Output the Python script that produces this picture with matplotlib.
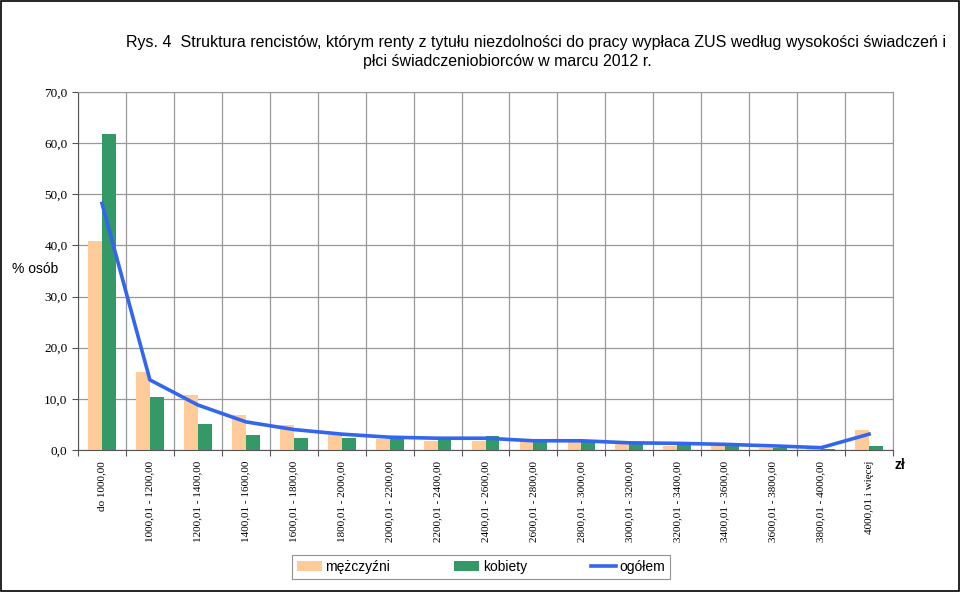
import numpy as np
import matplotlib
matplotlib.use("Agg")
import matplotlib.pyplot as plt

categories = ["do 1000,00", "1000,01 - 1200,00", "1200,01 - 1400,00", "1400,01 - 1600,00",
              "1600,01 - 1800,00", "1800,01 - 2000,00", "2000,01 - 2200,00", "2200,01 - 2400,00",
              "2400,01 - 2600,00", "2600,01 - 2800,00", "2800,01 - 3000,00", "3000,01 - 3200,00",
              "3200,01 - 3400,00", "3400,01 - 3600,00", "3600,01 - 3800,00", "3800,01 - 4000,00",
              "4000,01 i więcej"]
mezczyzni = [40.9, 15.3, 10.8, 6.8, 4.9, 2.9, 2.2, 1.8, 1.8, 1.5, 1.5, 1.2, 0.8, 0.8, 0.45, 0.2, 3.9]
kobiety = [61.8, 10.4, 5.1, 2.9, 2.3, 2.3, 2.1, 1.9, 2.7, 1.7, 1.7, 1.2, 0.9, 0.8, 0.3, 0.1, 0.8]
ogolem = [48.2, 13.7, 8.8, 5.5, 4.0, 3.1, 2.5, 2.3, 2.3, 1.8, 1.8, 1.4, 1.3, 1.1, 0.8, 0.45, 3.1]

serif = ["Liberation Serif", "DejaVu Serif"]
sans = ["Liberation Sans", "DejaVu Sans"]

fig = plt.figure(figsize=(9.6, 5.92), dpi=100)
ax = fig.add_axes([0.08125, 0.2399, 0.849, 0.6047])

x = np.arange(len(categories))
w = 0.29
b1 = ax.bar(x - w / 2, mezczyzni, w, color="#FFCC99", label="mężczyźni", zorder=2)
b2 = ax.bar(x + w / 2, kobiety, w, color="#339966", label="kobiety", zorder=2)
l1, = ax.plot(x, ogolem, color="#3366EE", lw=2.6, label="ogółem", zorder=3)

ax.set_xlim(-0.5, len(categories) - 0.5)
ax.set_ylim(0, 70)
ax.set_yticks(np.arange(0, 71, 10))
ax.yaxis.set_major_formatter(matplotlib.ticker.FuncFormatter(lambda v, p: ("%.1f" % v).replace(".", ",")))
for lab in ax.get_yticklabels():
    lab.set_family(serif)
    lab.set_fontsize(9.5)

ax.set_xticks(np.arange(-0.5, len(categories), 1))
ax.set_xticklabels([])
ax.set_xticks(x, minor=True)
ax.set_xticklabels(categories, minor=True, rotation=90, family=serif, fontsize=8, va="top")
ax.tick_params(axis="x", which="minor", length=0, pad=8)
ax.tick_params(axis="x", which="major", length=4, color="#555555")
ax.tick_params(axis="y", length=4, color="#555555")

ax.grid(True, which="major", color="#999999", lw=0.9, zorder=0)
for s in ax.spines.values():
    s.set_color("#999999")
ax.spines["bottom"].set_color("#555555")
ax.spines["left"].set_color("#555555")

fig.text(0.558, 0.929, "Rys. 4  Struktura rencistów, którym renty z tytułu niezdolności do pracy wypłaca ZUS według wysokości świadczeń i",
         ha="center", va="center", fontsize=11.5, family=sans)
fig.text(0.529, 0.896, "płci świadczeniobiorców w marcu 2012 r.",
         ha="center", va="center", fontsize=11.5, family=sans)
fig.text(0.0125, 0.545, "% osób", fontsize=10, family=sans, va="center")
fig.text(0.932, 0.214, "zł", fontsize=10, family=sans, weight="bold", va="center")

leg = fig.legend([b1, b2, l1], ["mężczyźni", "kobiety", "ogółem"], loc="center",
                 bbox_to_anchor=(0.501, 0.042), ncol=3, frameon=True, fancybox=False,
                 edgecolor="#777777", prop={"family": sans, "size": 10}, handlelength=1.8,
                 columnspacing=4.6, borderpad=0.35, handletextpad=0.25, borderaxespad=0)
leg.get_frame().set_linewidth(0.8)

fig.add_artist(plt.Rectangle((0.001, 0.001), 0.998, 0.998, transform=fig.transFigure,
                             fill=False, edgecolor="black", lw=1.2))

fig.savefig("out.png", dpi=100)
